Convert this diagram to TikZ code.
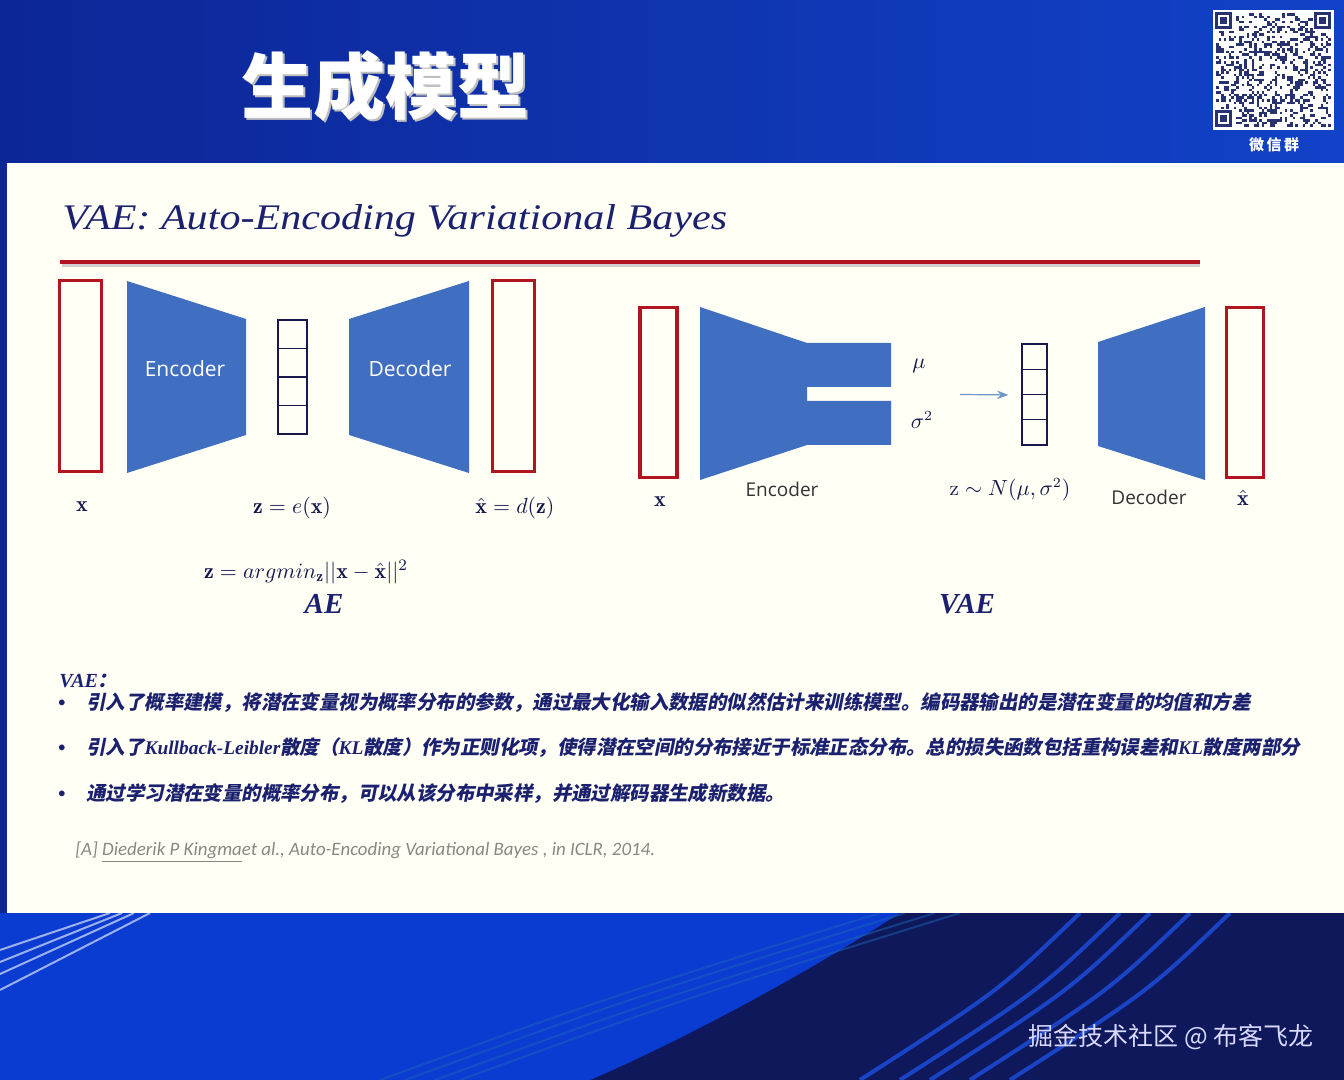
\documentclass[tikz,border=0pt]{standalone}
\usepackage{fontspec}
\usepackage{amsmath}
\usepackage{amssymb}
\usetikzlibrary{arrows.meta, positioning}
\newfontfamily\cjk{Noto Sans CJK SC}
\newfontfamily\cjksl[FakeSlant=0.2]{Noto Sans CJK SC}
\newfontfamily\latbi{Liberation Serif}
\newfontfamily\ttlfont[FakeStretch=1.17]{Liberation Serif}
\newfontfamily\refit{Carlito}
\newfontfamily\osans{Open Sans}
\definecolor{navy}{RGB}{27,33,110}
\definecolor{boxblue}{RGB}{64,110,192}
\definecolor{boxred}{RGB}{178,20,32}
\definecolor{paper}{RGB}{255,255,246}
\definecolor{bandL}{RGB}{12,38,150}
\definecolor{bandR}{RGB}{18,66,200}
\definecolor{refgray}{RGB}{140,134,128}
\definecolor{arrblue}{RGB}{110,150,200}
\definecolor{celldark}{RGB}{25,25,75}
\definecolor{deepnavy}{RGB}{14,24,90}
\definecolor{brightblue}{RGB}{10,60,210}
\definecolor{streak}{RGB}{30,80,225}
\definecolor{qrdark}{RGB}{40,50,110}

\begin{document}
\begin{tikzpicture}[x=0.5pt, y=-0.5pt,
  inbox/.style={draw=boxred, line width=1.6pt, inner sep=0pt},
  cell/.style={draw=celldark, line width=0.6pt, inner sep=0pt},
  netlabel/.style={font=\osans\fontsize{10.5}{12}\selectfont, text=white},
  vlabel/.style={font=\osans\fontsize{9.5}{11}\selectfont, text=black!80},
  mlabel/.style={font=\fontsize{11}{13}\selectfont, text=navy!70!black, inner sep=1pt},
  tag/.style={font=\latbi\bfseries\itshape\fontsize{14.5}{16}\selectfont, text=navy, inner sep=1pt},
  dot/.style={font=\fontsize{10}{12}\selectfont, text=navy},
  cline/.style={font=\cjksl\bfseries\fontsize{9.7}{12}\selectfont, text=navy, anchor=west, inner sep=0pt},
  arrow/.style={-Stealth, line width=0.6pt, draw=arrblue}
]
\useasboundingbox (0,0) rectangle (1344,1080);

% --- background ---
\shade[left color=bandL, right color=bandR] (0,0) rectangle (1344,163);
\fill[deepnavy] (0,913) rectangle (1344,1080);
\fill[brightblue] (0,913) -- (900,913) .. controls (780,990) and (660,1050) .. (590,1080) -- (0,1080) -- cycle;
\foreach \d in {0,25,55,80}
  \draw[cyan!40!blue, line width=1pt, opacity=0.5] (380+\d,1080) .. controls (600+\d,1000) .. (880+\d,913);
\foreach \d in {0,40,70,110,150}
  \draw[streak, line width=2pt, opacity=0.8] (860+\d,1080) .. controls (1000+\d,990) .. (1080+\d,913);
\foreach \d in {0,12,24,40}
  \draw[white, line width=1pt, opacity=0.6] (0,950+\d) -- (110+\d,913);
\fill[bandL] (0,163) rectangle (7,913);
\fill[paper] (7,163) rectangle (1344,913);

% --- header ---
\node[font=\cjk\bfseries\fontsize{36}{36}\selectfont, text=black!25] at (387,88) {生成模型};
\node[font=\cjk\bfseries\fontsize{36}{36}\selectfont, text=white] (head) at (385,86) {生成模型};

% QR code
\fill[white] (1213,10) rectangle (1334,130);
\pgfmathsetseed{11}
\foreach \i in {0,...,44}{
  \foreach \j in {0,...,44}{
    \pgfmathrandominteger{\r}{0}{2}
    \ifnum\r=0 \fill[qrdark] (1216+\i*2.55,13+\j*2.53) rectangle ++(2.55,2.53); \fi
  }
}
\foreach \qx/\qy in {1215/12, 1314/12, 1215/110}{
  \fill[white] (\qx-1,\qy-1) rectangle ++(20,20);
  \fill[qrdark] (\qx,\qy) rectangle ++(17,17);
  \fill[white] (\qx+3,\qy+3) rectangle ++(11,11);
  \fill[qrdark] (\qx+5,\qy+5) rectangle ++(7,7);
}
\node[font=\cjk\bfseries\fontsize{7.5}{8}\selectfont, text=white] (qrtag) at (1274,145) {微\,信\,群};

% --- slide title ---
\node[anchor=base west, inner sep=0pt, font=\ttlfont\itshape\fontsize{18}{20}\selectfont, text=navy] (title) at (62,230) {VAE: Auto-Encoding Variational Bayes};
\draw[line width=1.5pt, black!18] (62,266) -- (1200,266);
\draw[line width=2pt, boxred] (60,262) -- (1200,262);

% --- AE ---
\node[inbox, minimum width=21pt, minimum height=95.5pt] (xin) at (80.5,376) {};
\fill[boxblue] (127,281) -- (246,319) -- (246,435) -- (127,473) -- cycle;
\node[netlabel] (enca) at (185,369) {Encoder};
\foreach \i in {0,...,3}
  \node[cell, minimum width=14.5pt, minimum height=14.25pt] (za\i) at (292.5,334.25+28.5*\i) {};
\fill[boxblue] (349,319) -- (469,281) -- (469,473) -- (349,435) -- cycle;
\node[netlabel] (deca) at (410,369) {Decoder};
\node[inbox, minimum width=21pt, minimum height=95.5pt] (xout) at (513.5,376) {};

\node[mlabel] (xa) at (82,507) {$\mathbf{x}$};
\node[mlabel] (zeq) at (292,508) {$\mathbf{z}=e(\mathbf{x})$};
\node[mlabel] (xheq) at (515,508) {$\hat{\mathbf{x}}=d(\mathbf{z})$};
\node[mlabel] (loss) at (306,572) {$\mathbf{z}=argmin_{\mathbf{z}}||\mathbf{x}-\hat{\mathbf{x}}||^2$};
\node[tag] (ae) at (324,604) {AE};

% --- VAE ---
\node[inbox, minimum width=18.5pt, minimum height=85pt] (vin) at (658.5,392.5) {};
\fill[boxblue] (700,307) -- (807,343) -- (891,343) -- (891,387) -- (807,387) -- (807,401)
  -- (891,401) -- (891,445) -- (807,445) -- (700,480) -- cycle;
\node[font=\fontsize{10.5}{12}\selectfont, text=navy!70!black] (mu) at (919,366) {$\mu$};
\node[font=\fontsize{10.5}{12}\selectfont, text=navy!70!black] (sig) at (922,420) {$\sigma^2$};
\foreach \i in {0,...,3}
  \node[cell, minimum width=12.5pt, minimum height=12.6pt] (zv\i) at (1034.5,356.6+25.25*\i) {};
\coordinate (samp) at (960,394.5);
\draw[arrow, shorten >=6.5pt] (samp) -- (zv1.south west);
\fill[boxblue] (1098,342) -- (1205,307) -- (1205,480) -- (1098,446) -- cycle;
\node[inbox, minimum width=18.5pt, minimum height=85pt] (vout) at (1245,392.5) {};

\node[mlabel] (xv) at (660,502) {$\mathbf{x}$};
\node[vlabel] (encv) at (782,489) {Encoder};
\node[font=\fontsize{10.5}{12}\selectfont, text=navy!70!black] (zsamp) at (1010,490) {$\mathrm{z}\sim N(\mu,\sigma^2)$};
\node[vlabel] (decv) at (1149,497) {Decoder};
\node[mlabel] (xhv) at (1243,498) {$\hat{\mathbf{x}}$};
\node[tag] (vae) at (967,604) {VAE};

% --- notes ---
\node[anchor=west, inner sep=0pt, text=navy, font=\fontsize{10}{12}\selectfont] (vaehd) at (59,681)
  {{\latbi\bfseries\itshape VAE}{\cjksl\bfseries ：}};
\foreach \k/\yy in {1/704,2/749,3/795}
  \node[dot] (b\k) at (62,\yy) {\textbullet};
\node[cline] (l1) at (86,703) {引入了概率建模，将潜在变量视为概率分布的参数，通过最大化输入数据的似然估计来训练模型。编码器输出的是潜在变量的均值和方差};
\node[cline] (l2) at (86,748) {引入了{\latbi\bfseries\itshape Kullback-Leibler}散度（{\latbi\bfseries\itshape KL}散度）作为正则化项，使得潜在空间的分布接近于标准正态分布。总的损失函数包括重构误差和{\latbi\bfseries\itshape KL}散度两部分};
\node[cline] (l3) at (86,794) {通过学习潜在变量的概率分布，可以从该分布中采样，并通过解码器生成新数据。};

\node[anchor=west, inner sep=0pt, text=refgray, font=\refit\itshape\fontsize{9.45}{11}\selectfont] (cite) at (75,852)
  {[A] \underline{Diederik P Kingma}et al., Auto-Encoding Variational Bayes , in ICLR, 2014.};

% --- watermark ---
\node[font=\cjk\fontsize{12.5}{14}\selectfont, text=white!85!blue] (mark) at (1171,1037) {掘金技术社区 @ 布客飞龙};
\end{tikzpicture}
\end{document}
